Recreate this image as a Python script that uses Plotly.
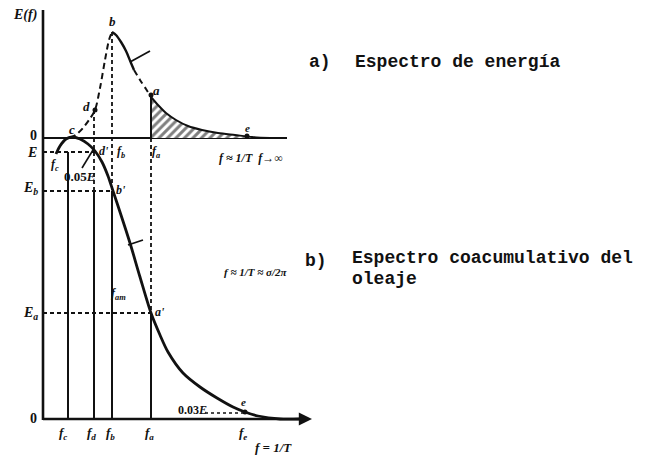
import plotly.graph_objects as go

# ---- reference frequencies (horizontal positions) and levels (vertical positions) ----
f_c, f_d, f_b, f_a, f_e = 68, 94, 112, 151, 245
top_zero = 138          # baseline of the energy spectrum E(f)
lvl_E, lvl_Eb, lvl_Ea = 152, 191, 313
bottom_zero = 419       # baseline of the cumulative spectrum

# ---- a) energy spectrum E(f) ----
rise_f = [70, 77, 83, 89, 95, 100, 105, 109, 112]
rise_E = [138, 134, 128, 120, 110, 88, 60, 40, 32]
fall_f = [112, 116, 121, 126, 131, 134]
fall_E = [32, 35, 42, 51, 63, 70]
mid_f = [134, 140, 146, 151]
mid_E = [70, 80, 89, 97]
tail_f = [151, 158, 166, 176, 188, 202, 218, 235, 252, 270]
tail_E = [97, 105, 113, 120, 126, 130, 133, 135, 137, 138]

# ---- b) cumulative spectrum ----
cum_f = [56, 60, 66, 72, 80, 88, 95, 102, 108, 113, 120, 130, 140, 151,
         160, 168, 183, 200, 217, 233, 245, 258, 280, 300]
cum_E = [154, 146, 139, 137, 139, 144, 151, 162, 176, 191, 212, 243, 277, 313,
         335, 352, 373, 387, 398, 407, 412, 416, 419, 419]

INK = "#111111"
SHORT_DASH = "4px,3px"
LONG_DASH = "6px,4px"
fig = go.Figure()


def seg(xs, ys, dash="solid", width=2.2):
    fig.add_trace(go.Scatter(x=xs, y=ys, mode="lines", showlegend=False,
                             hoverinfo="skip",
                             line=dict(color=INK, width=width, dash=dash,
                                       shape="spline", smoothing=0.8)))


# axes of the diagram
seg([43, 43], [bottom_zero + 1, 10], width=2.6)
seg([43, 287], [top_zero, top_zero], width=2.2)
seg([43, 300], [bottom_zero, bottom_zero], width=2.6)

# hatched area under the high-frequency tail
fig.add_trace(go.Scatter(
    x=tail_f + [tail_f[-1], tail_f[0]],
    y=tail_E + [top_zero, top_zero],
    mode="lines", fill="toself", showlegend=False, hoverinfo="skip",
    line=dict(width=0, color=INK),
    fillcolor="rgba(0,0,0,0)",
    fillpattern=dict(shape="/", fgcolor="black", bgcolor="white", size=6, solidity=0.5)))

# energy spectrum curve
seg(rise_f, rise_E, dash=LONG_DASH, width=2.0)
seg(fall_f, fall_E, width=2.4)
seg(mid_f, mid_E, dash=LONG_DASH, width=2.0)
seg(tail_f, tail_E, width=2.0)

# cumulative spectrum curve
seg(cum_f, cum_E, width=2.8)

# reference levels (dashed horizontals)
seg([43, f_d + 1], [lvl_E, lvl_E], dash=SHORT_DASH, width=1.8)
seg([43, f_b + 1], [lvl_Eb, lvl_Eb], dash=SHORT_DASH, width=1.8)
seg([43, f_a], [lvl_Ea, lvl_Ea], dash=SHORT_DASH, width=1.8)
seg([205, f_e], [413, 413], dash="dot", width=1.6)

# frequency verticals
seg([f_c, f_c], [lvl_E, bottom_zero], width=2.0)
seg([f_d, f_d], [110, lvl_Eb], dash=SHORT_DASH, width=1.8)
seg([f_d, f_d], [lvl_Eb, bottom_zero], width=2.0)
seg([f_b, f_b], [32, lvl_Eb], dash=SHORT_DASH, width=1.8)
seg([f_b, f_b], [lvl_Eb, bottom_zero], width=2.0)
seg([f_a, f_a], [97, top_zero], width=2.0)
seg([f_a, f_a], [top_zero, lvl_Ea], dash=SHORT_DASH, width=1.8)
seg([f_a, f_a], [lvl_Ea, bottom_zero], width=2.0)

# leader strokes
seg([130, 150], [62, 51], width=1.8)
seg([128, 143], [245, 240], width=1.8)
seg([82, 93], [168, 150], width=1.6)

# marked points
fig.add_trace(go.Scatter(x=[95, 151, 247, 245], y=[110, 95, 136, 412], mode="markers",
                         showlegend=False, hoverinfo="skip",
                         marker=dict(color=INK, size=5)))

# ---- labels ----
SERIF = "Liberation Serif"
MONO = "Liberation Mono"
labels = [
    ("<b><i>E(f)</i></b>", 25, 15, 14),
    ("<b>0</b>", 33, 135, 14),
    ("<b><i>E</i></b>", 32, 152, 14),
    ("<b><i>E<sub>b</sub></i></b>", 30, 188, 14),
    ("<b><i>E<sub>a</sub></i></b>", 30, 313, 14),
    ("<b>0</b>", 33, 418, 14),
    ("<b><i>c</i></b>", 72, 129, 13),
    ("<b><i>d</i></b>", 86, 106, 13),
    ("<b><i>b</i></b>", 112, 21, 13),
    ("<b><i>a</i></b>", 156, 90, 13),
    ("<b><i>e</i></b>", 247, 128, 11),
    ("<b><i>d'</i></b>", 104, 151, 12),
    ("<b><i>f<sub>b</sub></i></b>", 121, 152, 12),
    ("<b><i>f<sub>a</sub></i></b>", 156, 152, 12),
    ("<b><i>f<sub>c</sub></i></b>", 55, 165, 12),
    ("<b>0.05<i>E</i></b>", 80, 176, 13),
    ("<b><i>b'</i></b>", 121, 190, 12),
    ("<b><i>f ≈ 1/T  f→∞</i></b>", 251, 158, 12),
    ("<b><i>f<sub>am</sub></i></b>", 118, 294, 12),
    ("<b><i>a'</i></b>", 160, 312, 12),
    ("<b>0.03<i>E</i></b>", 192, 410, 12),
    ("<b><i>e</i></b>", 243, 402, 11),
    ("<b><i>f ≈ 1/T ≈ σ/2π</i></b>", 255, 272, 11),
    ("<b><i>f<sub>c</sub></i></b>", 63, 433, 13),
    ("<b><i>f<sub>d</sub></i></b>", 91, 433, 13),
    ("<b><i>f<sub>b</sub></i></b>", 110, 433, 13),
    ("<b><i>f<sub>a</sub></i></b>", 149, 433, 13),
    ("<b><i>f<sub>e</sub></i></b>", 243, 433, 13),
    ("<b><i>f = 1/T</i></b>", 273, 447, 13),
]
for text, x, y, size in labels:
    fig.add_annotation(x=x, y=y, text=text, showarrow=False,
                       font=dict(family=SERIF, size=size, color=INK),
                       xanchor="center", yanchor="middle")

captions = [
    ("a)", 307, 62),
    ("Espectro de energía", 353, 62),
    ("b)", 303, 261),
    ("Espectro coacumulativo del", 350, 258),
    ("oleaje", 350, 279),
]
for text, x, y in captions:
    fig.add_annotation(x=x, y=y, text="<b>" + text + "</b>", showarrow=False,
                       font=dict(family=MONO, size=18, color=INK),
                       xanchor="left", yanchor="middle")

# arrowhead of the frequency axis
fig.add_annotation(x=312, y=bottom_zero, ax=290, ay=bottom_zero,
                   xref="x", yref="y", axref="x", ayref="y",
                   text="", showarrow=True, arrowhead=2, arrowsize=1.2,
                   arrowwidth=2.2, arrowcolor=INK)

fig.update_layout(
    width=653, height=458,
    margin=dict(l=0, r=0, t=0, b=0),
    paper_bgcolor="white", plot_bgcolor="white",
    xaxis=dict(range=[0, 653], visible=False, fixedrange=True),
    yaxis=dict(range=[458, 0], visible=False, fixedrange=True),
)

fig.write_html("out.html")
